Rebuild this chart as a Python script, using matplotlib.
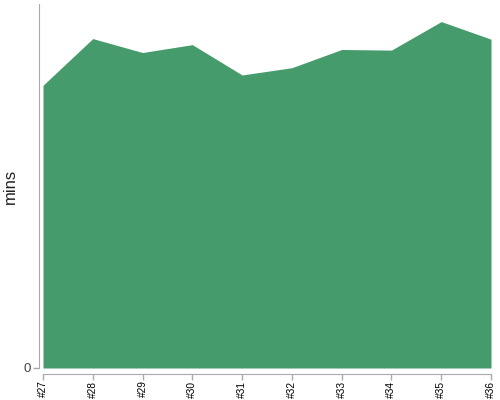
import matplotlib
matplotlib.use("Agg")
import matplotlib.pyplot as plt

plt.rcParams["font.family"] = ["Liberation Sans", "DejaVu Sans"]

sprints = ["#27", "#28", "#29", "#30", "#31", "#32", "#33", "#34", "#35", "#36"]
mins = [46.6, 54.3, 52.0, 53.3, 48.3, 49.5, 52.5, 52.4, 57.1, 54.2]

fig = plt.figure(figsize=(5, 4), dpi=100)
ax = fig.add_axes([0.086, 0.08, 0.896, 0.91])

x = range(len(sprints))
ax.fill_between(x, 0, mins, color="#459b6c", linewidth=0)
ax.set_xlim(0, len(sprints) - 1)
ax.set_ylim(0, 60)

ax.set_xticks(list(x))
ax.set_xticklabels(sprints)
ax.set_yticks([0])
ax.set_yticklabels(["0"])
ax.set_ylabel("mins", fontsize=12, color="#222222")
ax.yaxis.set_label_coords(-0.055, 0.5)

for s in ["top", "right"]:
    ax.spines[s].set_visible(False)
ax.spines["left"].set_position(("outward", 3))
ax.spines["bottom"].set_position(("outward", 4))
for s in ["left", "bottom"]:
    ax.spines[s].set_color("#aaaaaa")
ax.tick_params(axis="both", colors="#aaaaaa", length=4, width=1)
ax.tick_params(axis="x", labelcolor="black", labelrotation=90, labelsize=7.3, pad=1)
ax.tick_params(axis="y", labelcolor="#444444", labelsize=9.5, pad=2)

fig.savefig("out.png")
